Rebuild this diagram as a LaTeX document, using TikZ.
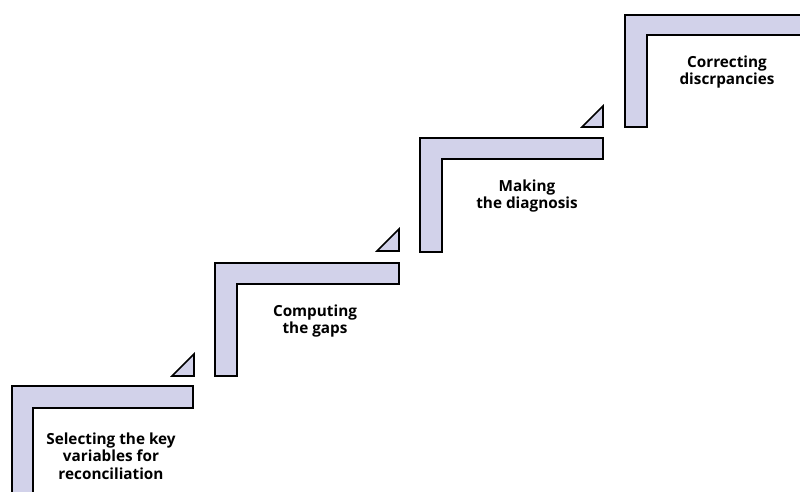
\documentclass[tikz,border=0pt]{standalone}
\usepackage{fontspec}
\setmainfont{Open Sans}
\begin{document}
\begin{tikzpicture}[x=1pt,y=-1pt,
  stair/.style={draw=black,line width=1.8pt,fill=stepcol,line join=miter},
  wedge/.style={draw=black,line width=1.6pt,fill=stepcol},
  label/.style={font=\fontsize{15.3}{17.5}\selectfont\bfseries,align=center,inner sep=0pt}]
\definecolor{stepcol}{RGB}{210,210,234}
\useasboundingbox (0,0) rectangle (800,492);
\clip (0,0) rectangle (800,492);
% step 1
\draw[stair] (12,505) -- (12,386) -- (193,386) -- (193,408) -- (33,408) -- (33,505) -- cycle;
% step 2
\draw[stair] (215,376) -- (215,263) -- (399,263) -- (399,284) -- (237,284) -- (237,376) -- cycle;
% step 3
\draw[stair] (420,252) -- (420,138) -- (603,138) -- (603,159) -- (442,159) -- (442,252) -- cycle;
% step 4
\draw[stair] (625,127) -- (625,15) -- (815,15) -- (815,35) -- (647,35) -- (647,127) -- cycle;
% wedges
\draw[wedge] (172,376) -- (194,376) -- (194,354) -- cycle;
\draw[wedge] (377,251) -- (399,251) -- (399,229) -- cycle;
\draw[wedge] (582,127) -- (603,127) -- (603,106) -- cycle;
% labels
\node[label] (l1) at (111,456) {Selecting the key\\variables for\\reconciliation};
\node[label] (l2) at (315,321) {Computing\\the gaps};
\node[label] (l3) at (527,196) {Making\\the diagnosis};
\node[label] (l4) at (727,72) {Correcting\\discrpancies};
\end{tikzpicture}
\end{document}
